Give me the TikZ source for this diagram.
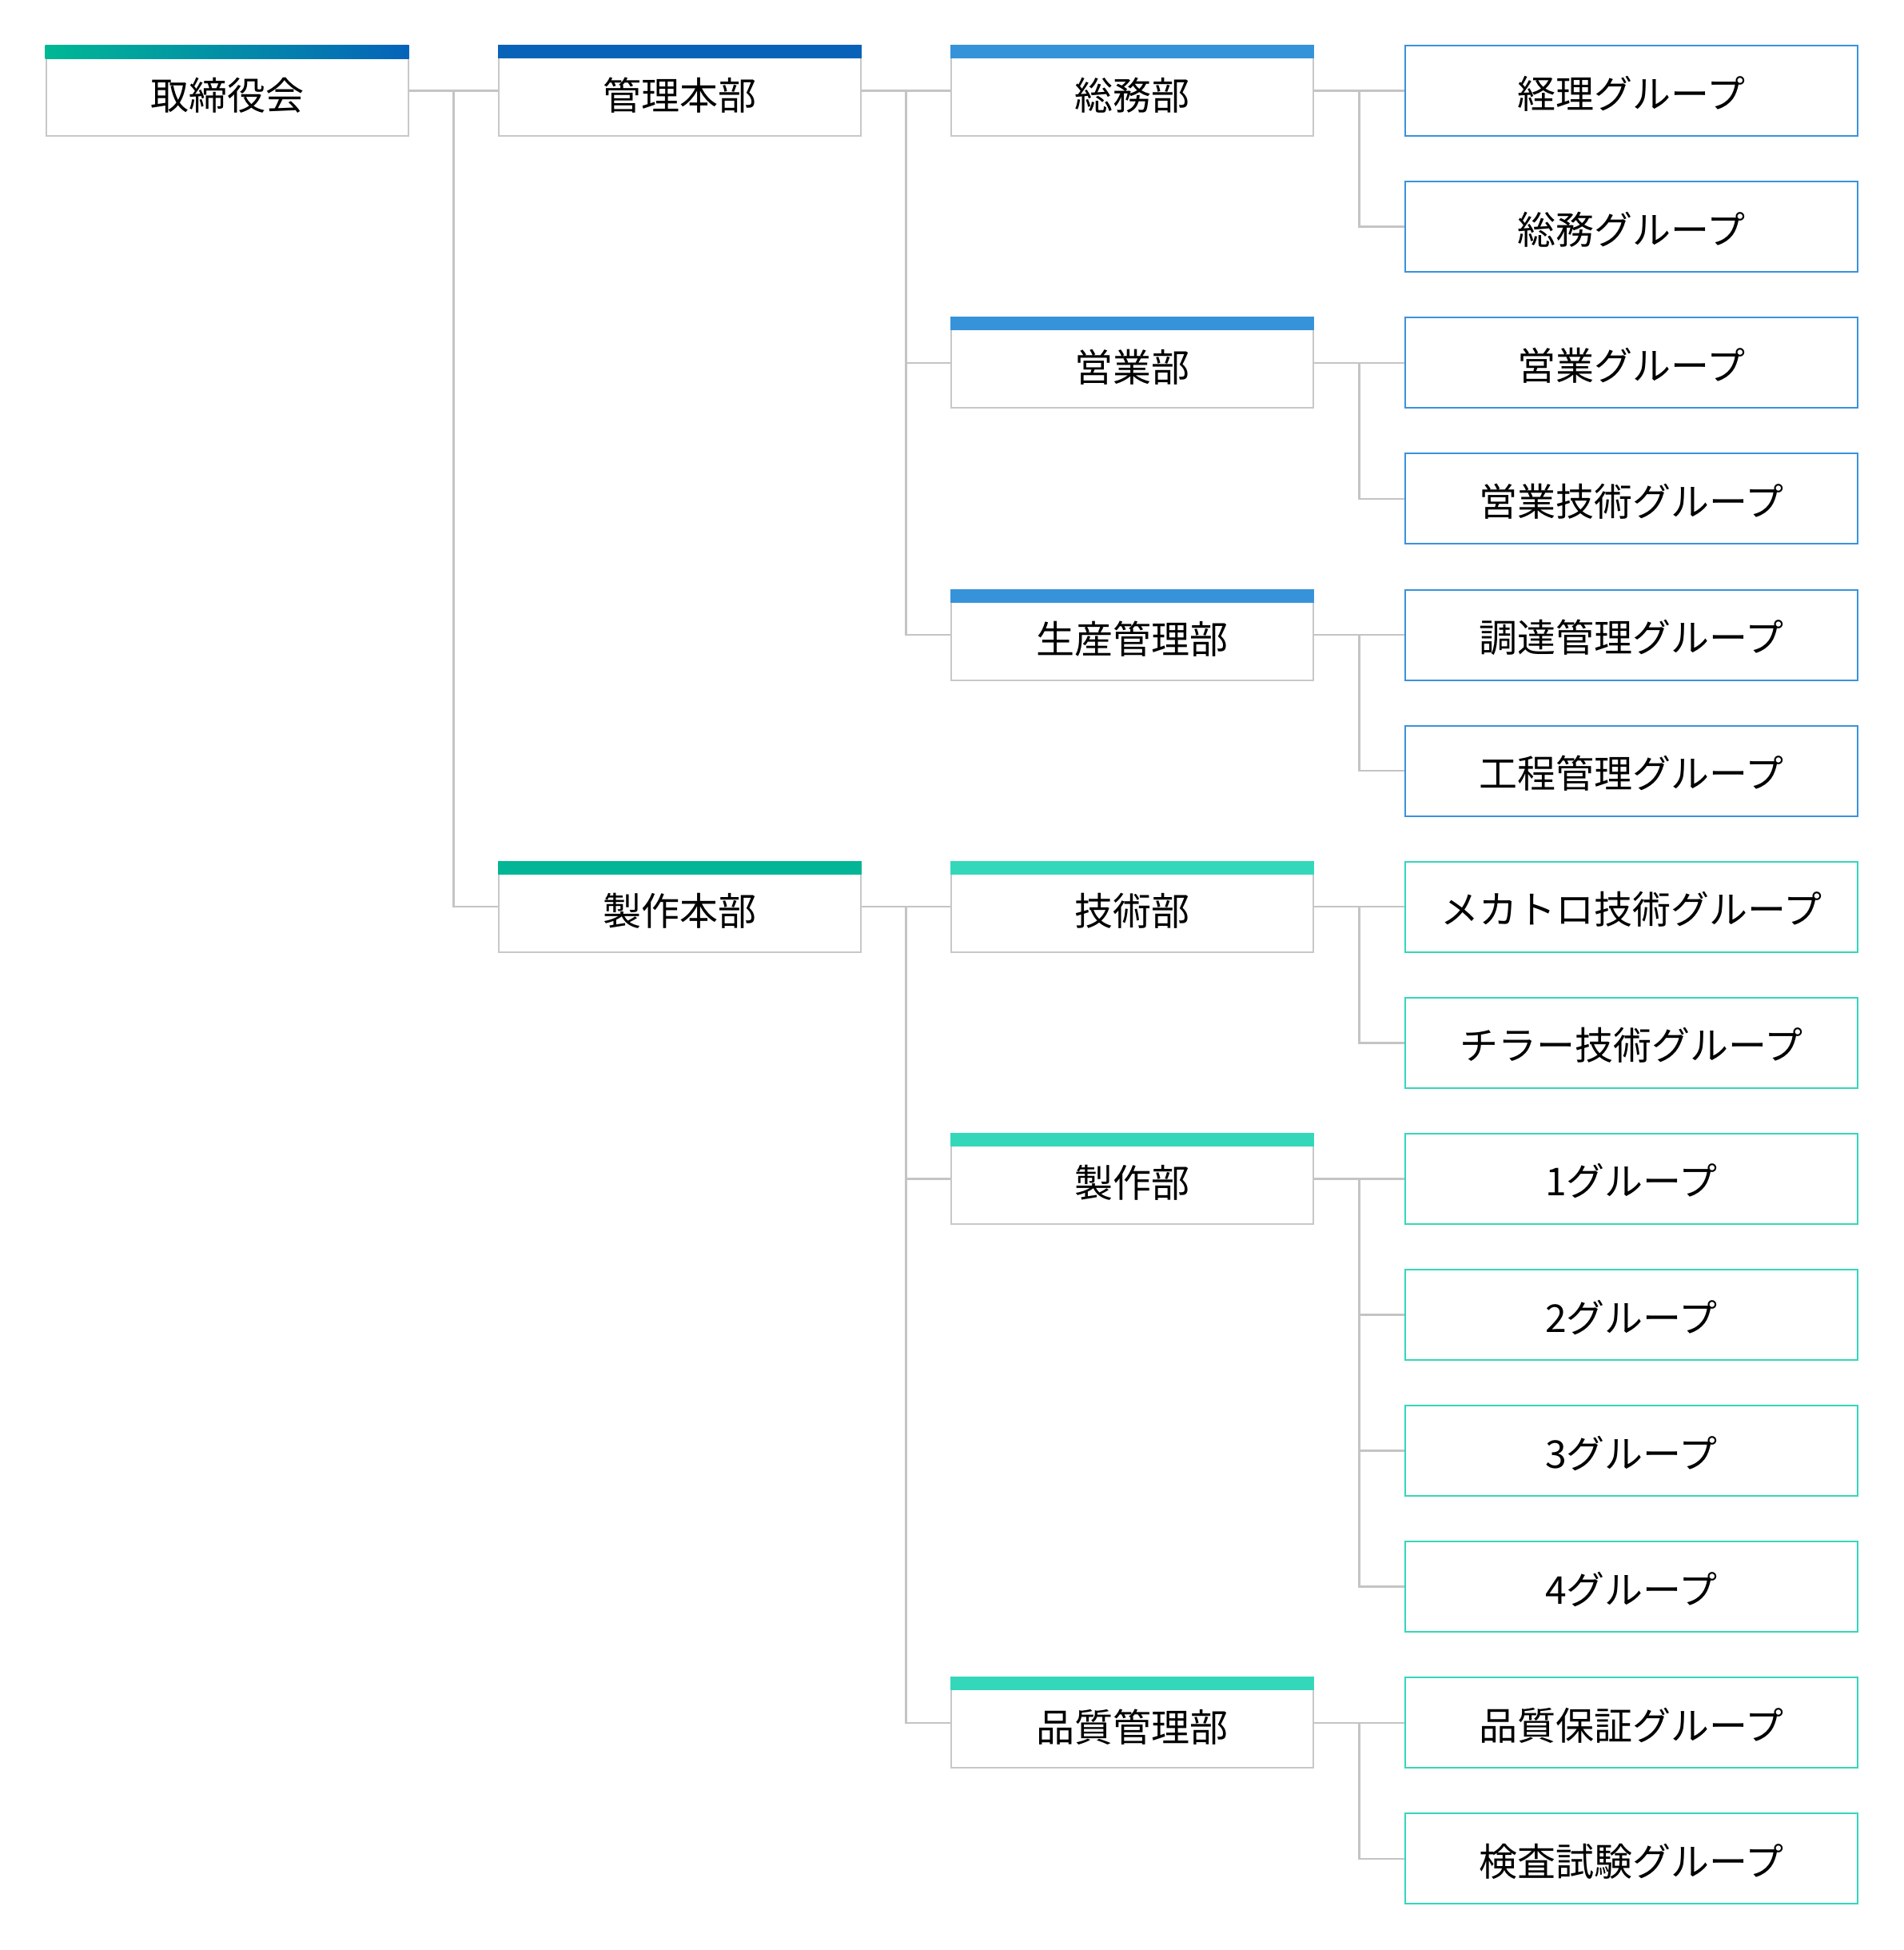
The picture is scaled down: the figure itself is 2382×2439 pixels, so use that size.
\documentclass[tikz,border=0pt]{standalone}
\usepackage{fontspec}
\setmainfont{Noto Sans CJK JP}
\usetikzlibrary{calc}
\definecolor{linegray}{HTML}{C4C4C4}
\definecolor{boxgray}{HTML}{C8C8C8}
\definecolor{cnavy}{HTML}{0862B8}
\definecolor{csky}{HTML}{3693DA}
\definecolor{cteal}{HTML}{02B597}
\definecolor{cmint}{HTML}{34D7BA}
\definecolor{cgrpblue}{HTML}{3A92DC}
\definecolor{cgradgreen}{HTML}{00B894}
\definecolor{cgradblue}{HTML}{0563BA}
\begin{document}
\begin{tikzpicture}[x=1pt,y=-1pt,font=\fontsize{48}{56}\selectfont,
  unit/.style={draw=boxgray,line width=2pt,fill=white,minimum width=453pt,minimum height=113pt,inner sep=0pt,text height=47pt,text depth=0pt},
  grp/.style={draw=#1,line width=2pt,fill=white,minimum width=566pt,minimum height=113pt,inner sep=0pt,text height=43pt,text depth=0pt},
  conn/.style={draw=linegray,line width=2.5pt}]
\useasboundingbox (0,0) rectangle (2382,2439);
\def\rowy#1{113.6+170.1*#1}
% column 1-3
\node[unit] (board) at (284,{\rowy{0}}) {取締役会};
\node[unit] (kanri) at (850.5,{\rowy{0}}) {管理本部};
\node[unit] (seisakuhq) at (850.5,{\rowy{6}}) {製作本部};
\node[unit] (somu) at (1416.5,{\rowy{0}}) {総務部};
\node[unit] (eigyo) at (1416.5,{\rowy{2}}) {営業部};
\node[unit] (seisan) at (1416.5,{\rowy{4}}) {生産管理部};
\node[unit] (gijutsu) at (1416.5,{\rowy{6}}) {技術部};
\node[unit] (seisaku) at (1416.5,{\rowy{8}}) {製作部};
\node[unit] (hinshitsu) at (1416.5,{\rowy{12}}) {品質管理部};
% bars
\shade[left color=cgradgreen,right color=cgradblue] (board.north west) rectangle ([yshift=-17pt]board.north east);
\fill[cnavy] (kanri.north west) rectangle ([yshift=-17pt]kanri.north east);
\fill[cteal] (seisakuhq.north west) rectangle ([yshift=-17pt]seisakuhq.north east);
\foreach \n in {somu,eigyo,seisan}{\fill[csky] (\n.north west) rectangle ([yshift=-17pt]\n.north east);}
\foreach \n in {gijutsu,seisaku,hinshitsu}{\fill[cmint] (\n.north west) rectangle ([yshift=-17pt]\n.north east);}
% column 4
\node[grp=cgrpblue] (g0) at (2041,{\rowy{0}}) {経理グループ};
\node[grp=cgrpblue] (g1) at (2041,{\rowy{1}}) {総務グループ};
\node[grp=cgrpblue] (g2) at (2041,{\rowy{2}}) {営業グループ};
\node[grp=cgrpblue] (g3) at (2041,{\rowy{3}}) {営業技術グループ};
\node[grp=cgrpblue] (g4) at (2041,{\rowy{4}}) {調達管理グループ};
\node[grp=cgrpblue] (g5) at (2041,{\rowy{5}}) {工程管理グループ};
\node[grp=cmint] (g6) at (2041,{\rowy{6}}) {メカトロ技術グループ};
\node[grp=cmint] (g7) at (2041,{\rowy{7}}) {チラー技術グループ};
\node[grp=cmint] (g8) at (2041,{\rowy{8}}) {1グループ};
\node[grp=cmint] (g9) at (2041,{\rowy{9}}) {2グループ};
\node[grp=cmint] (g10) at (2041,{\rowy{10}}) {3グループ};
\node[grp=cmint] (g11) at (2041,{\rowy{11}}) {4グループ};
\node[grp=cmint] (g12) at (2041,{\rowy{12}}) {品質保証グループ};
\node[grp=cmint] (g13) at (2041,{\rowy{13}}) {検査試験グループ};
% connectors
\foreach \p/\c in {board/kanri,board/seisakuhq,kanri/somu,kanri/eigyo,kanri/seisan,
  seisakuhq/gijutsu,seisakuhq/seisaku,seisakuhq/hinshitsu,
  somu/g0,somu/g1,eigyo/g2,eigyo/g3,seisan/g4,seisan/g5,gijutsu/g6,gijutsu/g7,
  seisaku/g8,seisaku/g9,seisaku/g10,seisaku/g11,hinshitsu/g12,hinshitsu/g13}{
  \draw[conn] (\p.east) -- ($(\p.east)!.5!(\p.east -| \c.west)$) |- (\c.west);
}
\end{tikzpicture}
\end{document}
